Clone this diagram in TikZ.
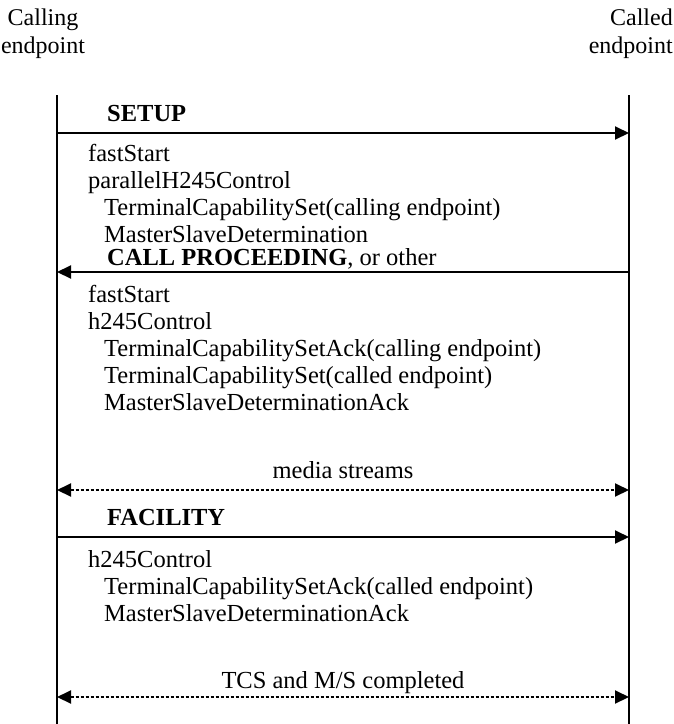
\documentclass[tikz,border=0pt]{standalone}
\usepackage{fontspec}
\setmainfont{Liberation Serif}
\usetikzlibrary{arrows.meta}
\begin{document}
\begin{tikzpicture}[x=1pt,y=-1pt,
  txt/.style={anchor=base west, inner sep=0pt, font=\fontsize{24.5}{27}\selectfont},
  ctxt/.style={anchor=base, inner sep=0pt, font=\fontsize{24.5}{27}\selectfont},
  head/.style={inner sep=0pt, font=\fontsize{24}{28}\selectfont},
  life/.style={line width=2pt},
  msg/.style={line width=2pt, -{Triangle[length=14pt,width=13pt]}},
  flow/.style={line width=2pt, dash pattern=on 3pt off 2pt,
    {Triangle[length=14pt,width=13pt]}-{Triangle[length=14pt,width=13pt]}}]
\useasboundingbox (0,0) rectangle (674,724);

% endpoint titles
\node[head, align=center, anchor=north] (calling) at (43,9) {Calling\\endpoint};
\node[head, align=right, anchor=north east] (called) at (673,9) {Called\\endpoint};

% lifelines
\coordinate (Ltop) at (57,95);  \coordinate (Lbot) at (57,724);
\coordinate (Rtop) at (629,95); \coordinate (Rbot) at (629,724);
\draw[life] (Ltop) -- (Lbot);
\draw[life] (Rtop) -- (Rbot);

% message endpoints on the lifelines
\foreach \n/\y in {setup/133, proc/272, media/490, fac/537, done/697} {
  \coordinate (L-\n) at (57,\y);
  \coordinate (R-\n) at (629,\y);
}

% SETUP
\node[txt] (t-setup) at (107,121) {\textbf{SETUP}};
\draw[msg] (L-setup) -- (R-setup);
\node[txt] (s1) at (88,161) {fastStart};
\node[txt] (s2) at (88,188) {parallelH245Control};
\node[txt] (s3) at (104,215) {TerminalCapabilitySet(calling endpoint)};
\node[txt] (s4) at (104,242) {MasterSlaveDetermination};

% CALL PROCEEDING
\node[txt] (t-proc) at (107,265) {\textbf{CALL PROCEEDING}, or other};
\draw[msg] (R-proc) -- (L-proc);
\node[txt] (p1) at (88,302) {fastStart};
\node[txt] (p2) at (88,329) {h245Control};
\node[txt] (p3) at (104,356) {TerminalCapabilitySetAck(calling endpoint)};
\node[txt] (p4) at (104,383) {TerminalCapabilitySet(called endpoint)};
\node[txt] (p5) at (104,410) {MasterSlaveDeterminationAck};

% media streams
\node[ctxt] (t-media) at (343,478) {media streams};
\draw[flow] (L-media) -- (R-media);

% FACILITY
\node[txt] (t-fac) at (107,525) {\textbf{FACILITY}};
\draw[msg] (L-fac) -- (R-fac);
\node[txt] (f1) at (88,567) {h245Control};
\node[txt] (f2) at (104,594) {TerminalCapabilitySetAck(called endpoint)};
\node[txt] (f3) at (104,621) {MasterSlaveDeterminationAck};

% completion
\node[ctxt] (t-done) at (343,688) {TCS and M/S completed};
\draw[flow] (L-done) -- (R-done);
\end{tikzpicture}
\end{document}
